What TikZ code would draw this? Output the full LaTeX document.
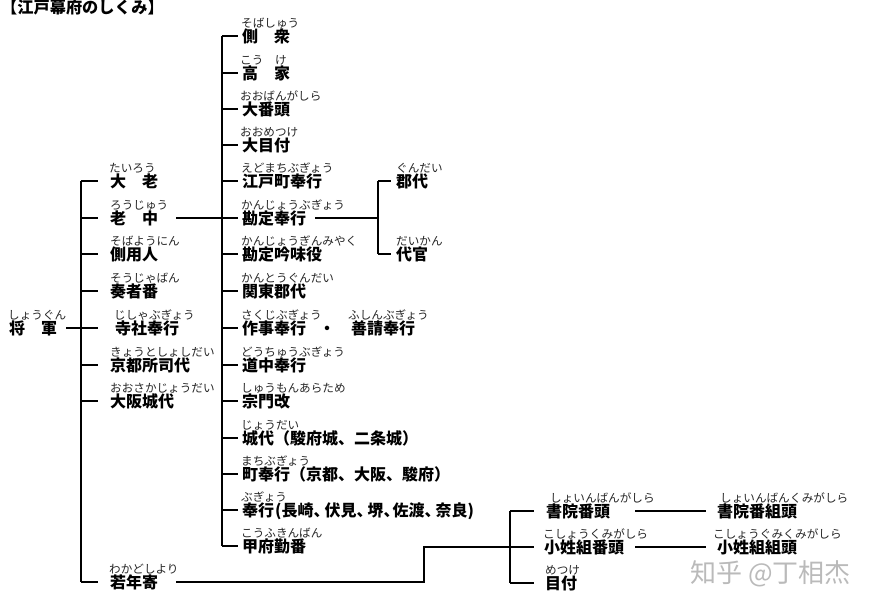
\documentclass[tikz,border=0pt]{standalone}
\usepackage{fontspec}
\setmainfont{Noto Sans CJK JP}
\tikzset{
  x=1pt,y=-1pt,
  kanji/.style={anchor=west,inner sep=0pt,font=\fontsize{16}{16}\selectfont\bfseries,text height=14pt,text depth=2pt},
  kana/.style={anchor=base west,inner sep=0pt,font=\fontsize{11.6}{12}\selectfont,text=black!85},
  conn/.style={line width=2pt,black,line cap=butt,line join=miter}
}
% name, kanji x, kana x, row y, kana, kanji
\newcommand\lab[6]{%
  \node[kanji] (#1) at (#2,#4) {#6};
  \node[kana] (#1-k) at (#3,#4-9) {#5};
}
\begin{document}
\begin{tikzpicture}
\useasboundingbox (0,0) rectangle (874,606);
\fill[white] (0,0) rectangle (874,606);
\node[anchor=base west,inner sep=0pt,font=\fontsize{16.2}{16}\selectfont\bfseries] (title) at (1,13) {【江戸幕府のしくみ】};
% shogun
\lab{shogun}{9}{8}{328}{しょうぐん}{将　軍}
% column 1
\lab{tairo}{110}{109}{181}{たいろう}{大　老}
\lab{roju}{110}{110}{218}{ろうじゅう}{老　中}
\lab{soba}{110}{110}{254}{そばようにん}{側用人}
\lab{sosha}{110}{110}{291}{そうじゃばん}{奏者番}
\lab{jisha}{115}{114}{328}{じしゃぶぎょう}{寺社奉行}
\lab{kyoto}{110}{110}{365}{きょうとしょしだい}{京都所司代}
\lab{osaka}{110}{110}{401}{おおさかじょうだい}{大阪城代}
\lab{waka}{110}{109}{582}{わかどしより}{若年寄}
% column 2
\lab{sobashu}{242}{241}{36}{そばしゅう}{側　衆}
\lab{koke}{242}{240}{73}{こう　け}{高　家}
\lab{oban}{242}{240}{109}{おおばんがしら}{大番頭}
\lab{ometsuke}{242}{240}{145}{おおめつけ}{大目付}
\lab{edo}{242}{241}{181}{えどまちぶぎょう}{江戸町奉行}
\lab{kanjo}{242}{241}{218}{かんじょうぶぎょう}{勘定奉行}
\lab{ginmi}{242}{241}{254}{かんじょうぎんみやく}{勘定吟味役}
\lab{kanto}{242}{241}{291}{かんとうぐんだい}{関東郡代}
\lab{sakuji}{242}{241}{328}{さくじぶぎょう}{作事奉行}
\node[kanji] (dot) at (319,328) {・};
\lab{fushin}{351}{348}{328}{ふしんぶぎょう}{善請奉行}
\lab{dochu}{242}{241}{365}{どうちゅうぶぎょう}{道中奉行}
\lab{shumon}{242}{241}{401}{しゅうもんあらため}{宗門改}
\lab{jodai}{242}{241}{438}{じょうだい}{城代（駿府城、二条城）}
\lab{machi}{242}{241}{474}{まちぶぎょう}{町奉行（京都、大阪、駿府）}
\lab{bugyo}{242}{241}{510}{ぶぎょう}{奉行\hspace{1pt}(長崎、\hspace{-5pt}伏見、\hspace{-5pt}堺、\hspace{-7pt}佐渡、\hspace{-5pt}奈良)}
\lab{kofu}{242}{241}{546}{こうふきんばん}{甲府勤番}
% column 3
\lab{gundai}{396}{396}{181}{ぐんだい}{郡代}
\lab{daikan}{396}{396}{254}{だいかん}{代官}
% column 4
\lab{shoin}{546}{550}{511}{しょいんばんがしら}{書院番頭}
\lab{kosho}{544}{543}{547}{こしょうくみがしら}{小姓組番頭}
\lab{metsuke}{545}{545}{583}{めつけ}{目付}
% column 5
\lab{shoinK}{717}{720}{511}{しょいんばんくみがしら}{書院番組頭}
\lab{koshoK}{717}{713}{547}{こしょうぐみくみがしら}{小姓組組頭}
% watermark
\node[anchor=base west,inner sep=0pt,font=\fontsize{26}{28}\selectfont,text=black!27] (mark) at (690,582) {知乎 @丁相杰};
% trunks
\coordinate (ta) at (81,181);
\coordinate (tb) at (222,36);
\coordinate (tc) at (378,181);
\coordinate (td) at (510,511);
\draw[conn] (ta |- tairo.west) -- (ta |- waka.west);
\draw[conn] (tb |- sobashu.west) -- (tb |- kofu.west);
\draw[conn] (tc |- gundai.west) -- (tc |- daikan.west);
\draw[conn] (td |- shoin.west) -- (td |- metsuke.west);
% column 1 branches
\foreach \n in {tairo,roju,soba,sosha,kyoto,osaka,waka}
  \draw[conn,shorten >=12pt] (ta |- \n.west) -- (\n.west);
\draw[conn,shorten >=17pt] (ta |- jisha.west) -- (jisha.west);
% column 2 branches
\foreach \n in {sobashu,koke,oban,ometsuke,edo,kanjo,ginmi,kanto,sakuji,dochu,shumon,jodai,machi,bugyo,kofu}
  \draw[conn,shorten >=4pt] (tb |- \n.west) -- (\n.west);
% column 3 branches
\foreach \n in {gundai,daikan}
  \draw[conn,shorten >=5pt] (tc |- \n.west) -- (\n.west);
% column 4 branches
\draw[conn,shorten >=12pt] (td |- shoin.west) -- (shoin.west);
\draw[conn,shorten >=10pt] (td |- kosho.west) -- (kosho.west);
\draw[conn,shorten >=11pt] (td |- metsuke.west) -- (metsuke.west);
% long connectors
\draw[conn,shorten <=9pt] (shogun.east) -- (ta |- shogun.east);
\draw[conn,shorten <=18pt] (roju.east) -- (tb |- roju.east);
\draw[conn,shorten <=9pt] (kanjo.east) -- (tc |- kanjo.east);
\draw[conn,shorten <=18pt] (waka.east) -- (424,582) -- (424,547) -- (td |- kosho.west);
\draw[conn,shorten <=25pt,shorten >=11pt] (shoin.east) -- (shoinK.west);
\draw[conn,shorten <=11pt,shorten >=11pt] (kosho.east) -- (koshoK.west);
\end{tikzpicture}
\end{document}
